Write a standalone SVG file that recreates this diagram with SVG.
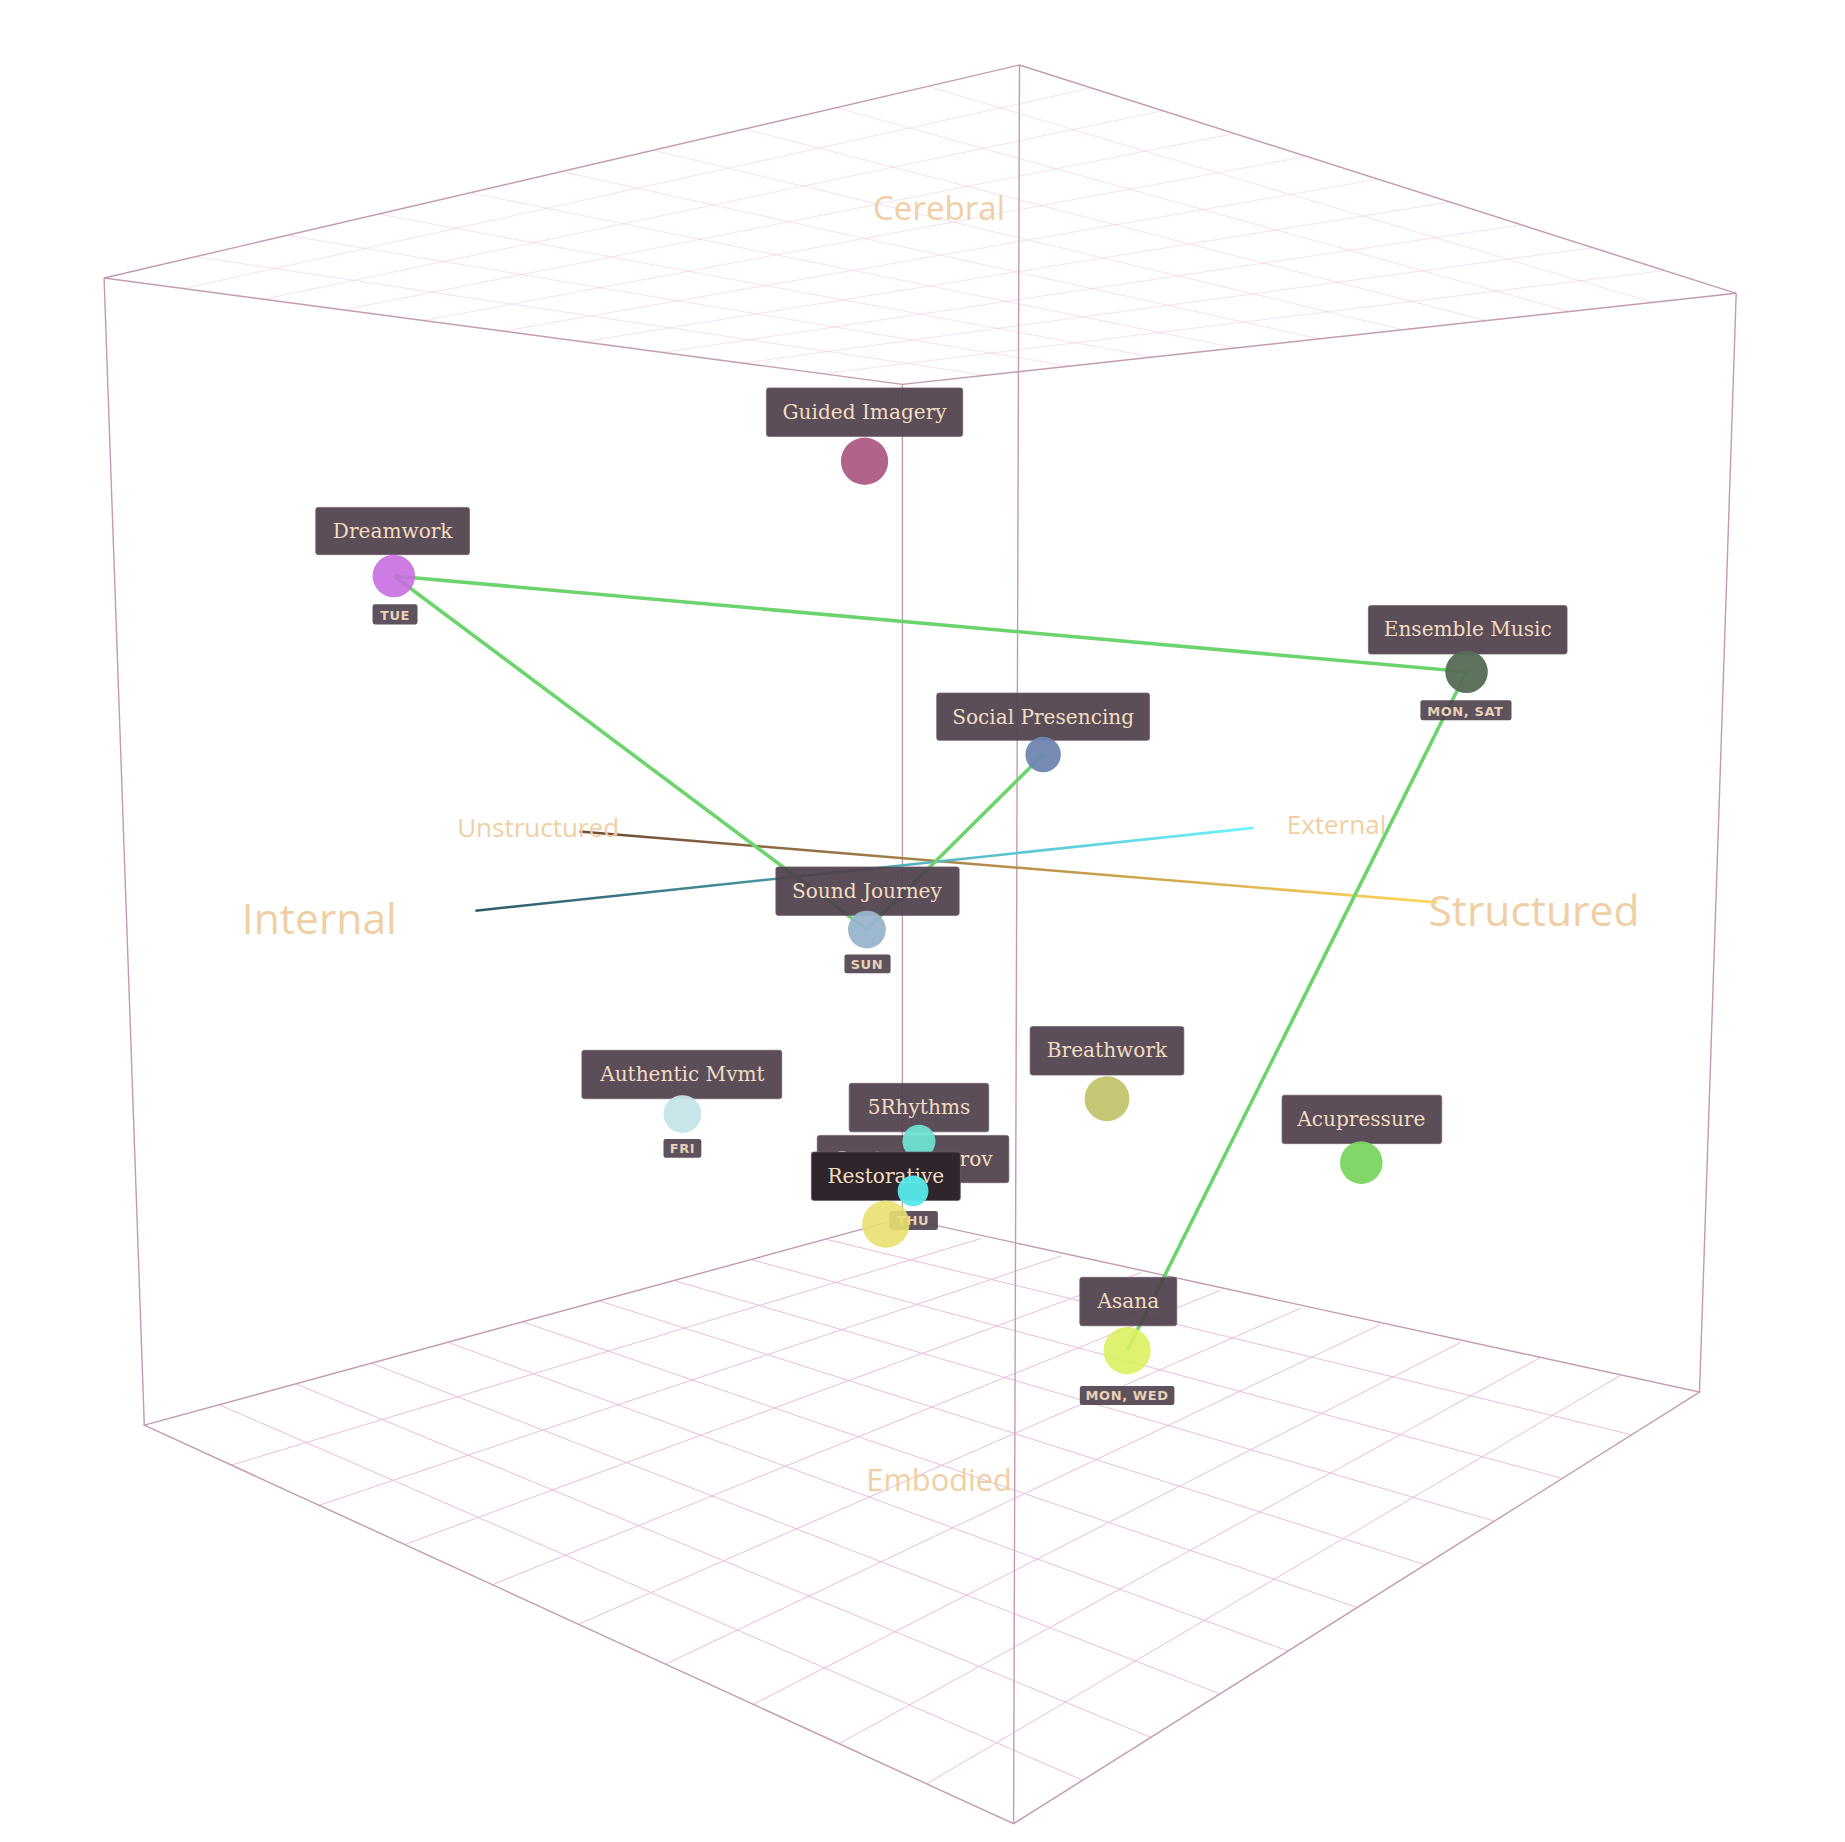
<svg xmlns="http://www.w3.org/2000/svg" width="1845" height="1842" viewBox="0 0 1845 1842">
<defs>
<style>
.edge{stroke:#c49ab0;stroke-width:1.2;fill:none}
.grid{stroke:#eab8dc;stroke-width:0.8;fill:none}
.ax{font-family:"Open Sans","Noto Sans",sans-serif;fill:#f0cfa4;text-anchor:middle}
.lb{fill:#4d3f4b;fill-opacity:0.92;stroke:#6d5d6a;stroke-width:0.6}
.lt{font-family:"DejaVu Serif","Liberation Serif",serif;font-size:17px;fill:#f2dcc0;text-anchor:middle}
.bd{fill:#4d3f4b;fill-opacity:0.9}
.bt{font-family:"DejaVu Sans","Liberation Sans",sans-serif;font-size:11px;font-weight:bold;fill:#e6d0b8;text-anchor:middle;letter-spacing:0.5px}
.cn{stroke:#6cd46c;stroke-width:3;fill:none}
</style>
<linearGradient id="gv" x1="0" y1="0" x2="0" y2="1"><stop offset="0" stop-color="#f07ee8"/><stop offset="1" stop-color="#5a2c4c"/></linearGradient>
<linearGradient id="gs" x1="0" y1="0" x2="1" y2="0"><stop offset="0" stop-color="#6a4a3a"/><stop offset="1" stop-color="#ffd85a"/></linearGradient>
<linearGradient id="gi" x1="0" y1="0" x2="1" y2="0"><stop offset="0" stop-color="#2e5a68"/><stop offset="1" stop-color="#6ef4ff"/></linearGradient>
</defs>
<g transform="scale(1.1827)">
<g id="grid">
<path class="grid" opacity="0.45" d="M165.4,217 L833.5,317.3 M242.8,199 L904,309.6 M320.2,181 L974.5,301.9 M397.6,163 L1045,294.2 M475,145 L1115.5,286.5 M552.4,127 L1186,278.8 M629.8,109 L1256.5,271.1 M707.2,91 L1327,263.4 M784.6,73 L1397.5,255.7 M155.5,244 L922.6,74.3 M223,253 L983.2,93.6 M290.5,262 L1043.8,112.9 M358,271 L1104.4,132.2 M425.5,280 L1165,151.5 M493,289 L1225.6,170.8 M560.5,298 L1286.2,190.1 M628,307 L1346.8,209.4 M695.5,316 L1407.4,228.7"/>
<path class="grid" d="M195,1239 L830,1047 M269,1273 L897,1062 M342,1306 L965,1076 M416,1340 L1032,1091 M490,1373 L1100,1106 M563,1407 L1167,1120 M637,1441 L1235,1135 M710,1474 L1302,1148 M784,1508 L1370,1163 M186,1188 L915,1505 M250,1170 L973,1469 M315,1153 L1031,1432 M379,1135 L1089,1396 M443,1118 L1147,1359 M507,1100 L1205,1323 M571,1083 L1263,1286 M635,1065 L1321,1250 M699,1048 L1379,1213"/>
</g>
<g id="cube">
<path class="edge" d="M88,235 L862,55 L1468,248 L763,325 Z M122,1205 L857,1542 L1437,1177 L763,1030 Z M88,235 L122,1205 M862,55 L857,1542 M1468,248 L1437,1177 M763,325 L763,1030"/>
</g>
<g id="axes">
<line x1="794" y1="240" x2="794" y2="1190" stroke="url(#gv)" stroke-width="2.2"/>
<line x1="490" y1="703" x2="1215" y2="763" stroke="url(#gs)" stroke-width="2.2"/>
<line x1="402" y1="770" x2="1060" y2="700" stroke="url(#gi)" stroke-width="2.2"/>
<text class="ax" x="794" y="186" font-size="28">Cerebral</text>
<text class="ax" x="794" y="1261" font-size="26">Embodied</text>
<text class="ax" x="455" y="708" font-size="22">Unstructured</text>
<text class="ax" x="1130" y="705" font-size="22">External</text>
<text class="ax" x="270" y="790" font-size="36">Internal</text>
<text class="ax" x="1297" y="783" font-size="36">Structured</text>
</g>
<g id="connectors">
<line class="cn" x1="333" y1="487" x2="1240" y2="568"/>
<line class="cn" x1="333" y1="487" x2="733" y2="786"/>
<line class="cn" x1="733" y1="786" x2="882" y2="638"/>
<line class="cn" x1="1240" y1="568" x2="953" y2="1142"/>
</g>
<g id="guided-imagery"><rect class="lb" x="648" y="328" width="166" height="41" rx="2"/><text class="lt" x="731" y="354">Guided Imagery</text><circle cx="731" cy="390" r="20" fill="#a8527e" opacity="0.9"/></g>
<g id="dreamwork"><rect class="lb" x="267" y="429" width="130" height="40" rx="2"/><text class="lt" x="332" y="455">Dreamwork</text><circle cx="333" cy="487" r="18" fill="#c86ee0" opacity="0.9"/><rect class="bd" x="315" y="511" width="38" height="17" rx="2"/><text class="bt" x="334" y="524">TUE</text></g>
<g id="ensemble-music"><rect class="lb" x="1157" y="512" width="168" height="41" rx="2"/><text class="lt" x="1241" y="538">Ensemble Music</text><circle cx="1240" cy="568" r="18" fill="#556b55" opacity="0.95"/><rect class="bd" x="1201" y="592" width="77" height="17" rx="2"/><text class="bt" x="1239" y="605">MON, SAT</text></g>
<g id="social-presencing"><rect class="lb" x="792" y="586" width="180" height="40" rx="2"/><text class="lt" x="882" y="612">Social Presencing</text><circle cx="882" cy="638" r="15" fill="#6f86b0" opacity="0.95"/></g>
<g id="sound-journey"><rect class="lb" x="656" y="733" width="155" height="41" rx="2"/><text class="lt" x="733" y="759">Sound Journey</text><circle cx="733" cy="786" r="16" fill="#98b4cc" opacity="0.95"/><rect class="bd" x="714" y="807" width="39" height="16" rx="2"/><text class="bt" x="733" y="819">SUN</text></g>
<g id="authentic-mvmt"><rect class="lb" x="492" y="888" width="169" height="41" rx="2"/><text class="lt" x="577" y="914">Authentic Mvmt</text><circle cx="577" cy="942" r="16" fill="#c5e4e8" opacity="0.95"/><rect class="bd" x="561" y="963" width="32" height="16" rx="2"/><text class="bt" x="577" y="975">FRI</text></g>
<g id="breathwork"><rect class="lb" x="871" y="868" width="130" height="41" rx="2"/><text class="lt" x="936" y="894">Breathwork</text><circle cx="936" cy="929" r="19" fill="#c2c46e" opacity="0.95"/></g>
<g id="acupressure"><rect class="lb" x="1084" y="926" width="135" height="41" rx="2"/><text class="lt" x="1151" y="952">Acupressure</text><circle cx="1151" cy="983" r="18" fill="#7ad660" opacity="0.95"/></g>
<g id="contact-improv"><rect class="lb" x="691" y="960" width="162" height="40" rx="2"/><text class="lt" x="772" y="986">Contact Improv</text><rect class="bd" x="752" y="1024" width="41" height="16" rx="2"/><text class="bt" x="772" y="1036">THU</text></g>
<g id="5rhythms"><rect class="lb" x="718" y="916" width="118" height="41" rx="2"/><text class="lt" x="777" y="942">5Rhythms</text><circle cx="777" cy="965" r="14" fill="#6ee0d0" opacity="0.95"/></g>
<g id="restorative"><rect x="686" y="974" width="126" height="41" rx="2" fill="#2e262c" stroke="#6d5d6a" stroke-width="0.6"/><text class="lt" x="749" y="1000">Restorative</text><circle cx="749" cy="1035" r="20" fill="#e8e070" opacity="0.9"/></g>
<g id="contact-improv-dot"><circle cx="772" cy="1007" r="13" fill="#56eaea" opacity="0.95"/></g>
<g id="asana"><rect class="lb" x="913" y="1080" width="82" height="41" rx="2"/><text class="lt" x="954" y="1106">Asana</text><circle cx="953" cy="1142" r="20" fill="#dcf060" opacity="0.9"/><rect class="bd" x="913" y="1172" width="80" height="16" rx="2"/><text class="bt" x="953" y="1184">MON, WED</text></g>
</g>
</svg>
